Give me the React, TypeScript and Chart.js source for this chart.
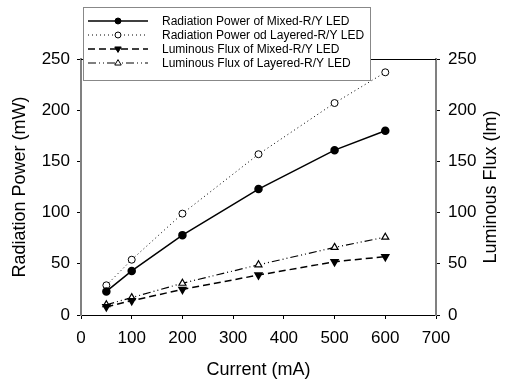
import React, { useEffect, useRef } from 'react';
import { Chart, registerables } from 'chart.js';

Chart.register(...registerables);

const currents = [50, 100, 200, 350, 500, 600];
const radiationMixed = [23, 43, 78, 123, 161, 180];
const radiationLayered = [29, 54, 99, 157, 207, 237];
const fluxMixed = [8, 14, 25, 39, 52, 57];
const fluxLayered = [10, 17, 31, 49, 66, 76];
const seriesLabels = [
  'Radiation Power of Mixed-R/Y LED',
  'Radiation Power od Layered-R/Y LED',
  'Luminous Flux of Mixed-R/Y LED',
  'Luminous Flux of Layered-R/Y LED',
];
const xTitle = 'Current (mA)';
const yLeftTitle = 'Radiation Power (mW)';
const yRightTitle = 'Luminous Flux (lm)';

const FONT = '"Liberation Sans", Arial, sans-serif';

function drawMarker(ctx: CanvasRenderingContext2D, style: string, rot: number, x: number, y: number, r: number, fill: string, stroke: string) {
  ctx.save();
  ctx.setLineDash([]);
  ctx.lineWidth = 1;
  ctx.fillStyle = fill;
  ctx.strokeStyle = stroke;
  ctx.beginPath();
  if (style === 'circle') {
    ctx.arc(x, y, r, 0, Math.PI * 2);
  } else {
    const s = rot === 180 ? -1 : 1;
    ctx.moveTo(x, y - s * r);
    ctx.lineTo(x + r * 0.95, y + s * r * 0.6);
    ctx.lineTo(x - r * 0.95, y + s * r * 0.6);
    ctx.closePath();
  }
  ctx.fill();
  ctx.stroke();
  ctx.restore();
}

const boxLegend = {
  id: 'boxLegend',
  afterDraw(chart: any) {
    const ctx: CanvasRenderingContext2D = chart.ctx;
    const a = chart.chartArea;
    ctx.save();
    ctx.strokeStyle = '#000';
    ctx.lineWidth = 1;
    ctx.beginPath();
    ctx.moveTo(a.left, Math.round(a.top) + 0.5);
    ctx.lineTo(a.right, Math.round(a.top) + 0.5);
    ctx.stroke();

    // right axis title, reading bottom-to-top
    ctx.save();
    ctx.translate(491, (a.top + a.bottom) / 2);
    ctx.rotate(-Math.PI / 2);
    ctx.fillStyle = '#000';
    ctx.font = `18px ${FONT}`;
    ctx.textAlign = 'center';
    ctx.textBaseline = 'middle';
    ctx.fillText(yRightTitle, 0, 0);
    ctx.restore();

    const bx = 83, by = 7, bw = 287, bh = 73;
    ctx.fillStyle = '#fff';
    ctx.fillRect(bx, by, bw, bh);
    ctx.strokeStyle = '#888';
    ctx.strokeRect(bx + 0.5, by + 0.5, bw, bh);

    chart.data.datasets.forEach((ds: any, i: number) => {
      const y = 21 + i * 14;
      ctx.save();
      ctx.strokeStyle = ds.borderColor;
      ctx.lineWidth = ds.borderWidth;
      ctx.setLineDash(ds.borderDash || []);
      ctx.beginPath();
      ctx.moveTo(88, y);
      ctx.lineTo(148, y);
      ctx.stroke();
      ctx.restore();
      drawMarker(ctx, ds.pointStyle, ds.pointRotation || 0, 118, y, ds.pointRadius * 0.85, ds.pointBackgroundColor, ds.pointBorderColor);
      ctx.fillStyle = '#000';
      ctx.font = `12px ${FONT}`;
      ctx.textBaseline = 'middle';
      ctx.textAlign = 'left';
      ctx.fillText(ds.label, 162, y + 0.5);
    });
    ctx.restore();
  },
};

export default function App() {
  const ref = useRef<HTMLCanvasElement>(null);
  useEffect(() => {
    if (!ref.current) return;
    const tickFont = { family: FONT, size: 17 };
    const titleFont = { family: FONT, size: 18 };
    const chart = new Chart(ref.current, {
      type: 'line',
      data: {
        datasets: [
          {
            label: seriesLabels[0],
            data: currents.map((x, i) => ({ x, y: radiationMixed[i] })),
            yAxisID: 'y',
            borderColor: '#000',
            borderWidth: 1.5,
            borderDash: [],
            pointStyle: 'circle',
            pointRadius: 3.5,
            pointBackgroundColor: '#000',
            pointBorderColor: '#000',
          },
          {
            label: seriesLabels[1],
            data: currents.map((x, i) => ({ x, y: radiationLayered[i] })),
            yAxisID: 'y',
            borderColor: '#000',
            borderWidth: 1,
            borderDash: [1, 3],
            pointStyle: 'circle',
            pointRadius: 3.5,
            pointBackgroundColor: '#fff',
            pointBorderColor: '#000',
          },
          {
            label: seriesLabels[2],
            data: currents.map((x, i) => ({ x, y: fluxMixed[i] })),
            yAxisID: 'y2',
            borderColor: '#000',
            borderWidth: 1.5,
            borderDash: [7, 4],
            pointStyle: 'triangle',
            pointRotation: 180,
            pointRadius: 4,
            pointBackgroundColor: '#000',
            pointBorderColor: '#000',
          },
          {
            label: seriesLabels[3],
            data: currents.map((x, i) => ({ x, y: fluxLayered[i] })),
            yAxisID: 'y2',
            borderColor: '#000',
            borderWidth: 1.2,
            borderDash: [8, 3, 1, 3, 1, 3],
            pointStyle: 'triangle',
            pointRotation: 0,
            pointRadius: 4,
            pointBackgroundColor: '#fff',
            pointBorderColor: '#000',
          },
        ],
      },
      options: {
        responsive: false,
        animation: false,
        layout: { padding: { top: 59, left: 0, right: 0, bottom: 0 } },
        plugins: { legend: { display: false }, tooltip: { enabled: false } },
        elements: { line: { tension: 0 }, point: { borderWidth: 1 } },
        scales: {
          x: {
            type: 'linear',
            min: 0,
            max: 700,
            ticks: { stepSize: 100, font: tickFont, color: '#000', padding: 9 },
            grid: { drawOnChartArea: false, drawTicks: true, tickLength: 4, tickColor: '#000' },
            border: { display: true, color: '#000', width: 1 },
            title: { display: true, text: xTitle, font: titleFont, color: '#000', padding: { top: 4, bottom: 0 } },
            afterFit: (s: any) => { s.height = 66; },
          },
          y: {
            type: 'linear',
            position: 'left',
            min: 0,
            max: 250,
            ticks: { stepSize: 50, font: tickFont, color: '#000', padding: 7 },
            grid: { drawOnChartArea: false, drawTicks: true, tickLength: 4, tickColor: '#000' },
            border: { display: true, color: '#808080', width: 2 },
            title: { display: true, text: yLeftTitle, font: titleFont, color: '#000', padding: { top: 9, bottom: 0 } },
            afterFit: (s: any) => { s.width = 81; },
          },
          y2: {
            type: 'linear',
            position: 'right',
            min: 0,
            max: 250,
            ticks: { stepSize: 50, font: tickFont, color: '#000', padding: 8 },
            grid: { drawOnChartArea: false, drawTicks: true, tickLength: 4, tickColor: '#000' },
            border: { display: true, color: '#808080', width: 2 },
            title: { display: false, text: yRightTitle },
            afterFit: (s: any) => { s.width = 73; },
          },
        },
      },
      plugins: [boxLegend],
    } as any);
    return () => chart.destroy();
  }, []);
  return (
    <div style={{ position: 'absolute', left: 0, top: 0, width: 509, height: 381, background: '#fff' }}>
      <canvas ref={ref} width={509} height={381} style={{ display: 'block', width: 509, height: 381 }} />
    </div>
  );
}
